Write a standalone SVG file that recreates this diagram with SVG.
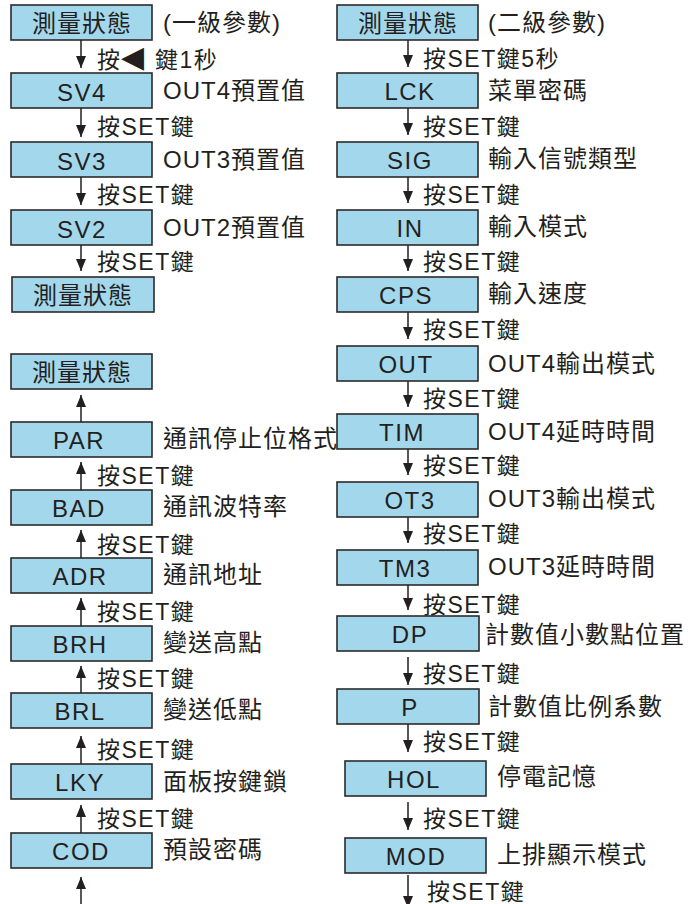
<svg xmlns="http://www.w3.org/2000/svg" width="697" height="904" viewBox="0 0 697 904">
<style>
.box rect{fill:#a3d8ec;stroke:#2b2b2b;stroke-width:1.6}
.box text{font-family:"Liberation Sans","Noto Sans CJK TC",sans-serif;font-size:24px;letter-spacing:1.5px;text-anchor:middle;fill:#231f20}
.box text.cj{letter-spacing:1px}
.lbl{font-family:"Liberation Sans","Noto Sans CJK TC",sans-serif;font-size:24px;letter-spacing:1px;fill:#231f20}
.key{font-family:"Liberation Sans","Noto Sans CJK TC",sans-serif;font-size:23px;letter-spacing:1.5px;fill:#231f20}
.conn line{stroke:#231f20;stroke-width:1.5;marker-end:url(#ah)}
</style>
<defs>
<marker id="ah" viewBox="0 0 12 10" refX="12" refY="5" markerWidth="12" markerHeight="10" orient="auto" markerUnits="userSpaceOnUse"><path d="M0,0 L12,5 L0,10 z" fill="#231f20"/></marker>
</defs>
<rect width="697" height="904" fill="#fff"/>

<!-- left column -->
<g id="L-meas1" class="box"><rect x="11" y="5" width="141" height="35"/><text class="cj" x="82" y="31.5">測量狀態</text></g>
<g id="L-sv4" class="box"><rect x="11" y="73" width="141" height="35"/><text x="82" y="101">SV4</text></g>
<g id="L-sv3" class="box"><rect x="11" y="142" width="141" height="35"/><text x="82" y="170">SV3</text></g>
<g id="L-sv2" class="box"><rect x="11" y="210" width="141" height="35"/><text x="82" y="238">SV2</text></g>
<g id="L-meas2" class="box"><rect x="12" y="277" width="142" height="35"/><text class="cj" x="83" y="303.5">測量狀態</text></g>
<g id="L-meas3" class="box"><rect x="11" y="354" width="141" height="35"/><text class="cj" x="82" y="380.5">測量狀態</text></g>
<g id="L-par" class="box"><rect x="11" y="422" width="141" height="35"/><text x="79" y="449">PAR</text></g>
<g id="L-bad" class="box"><rect x="11" y="490" width="141" height="35"/><text x="79" y="517">BAD</text></g>
<g id="L-adr" class="box"><rect x="11" y="558" width="141" height="35"/><text x="80" y="585">ADR</text></g>
<g id="L-brh" class="box"><rect x="11" y="626" width="141" height="35"/><text x="80" y="653">BRH</text></g>
<g id="L-brl" class="box"><rect x="11" y="693" width="141" height="35"/><text x="80" y="720">BRL</text></g>
<g id="L-lky" class="box"><rect x="11" y="764" width="141" height="35"/><text x="80" y="791">LKY</text></g>
<g id="L-cod" class="box"><rect x="11" y="833" width="141" height="35"/><text x="81" y="860">COD</text></g>

<!-- right column -->
<g id="R-meas" class="box"><rect x="337" y="5" width="141" height="35"/><text class="cj" x="408" y="31.5">測量狀態</text></g>
<g id="R-lck" class="box"><rect x="337" y="73" width="141" height="35"/><text x="410" y="100">LCK</text></g>
<g id="R-sig" class="box"><rect x="337" y="142" width="141" height="35"/><text x="410" y="169">SIG</text></g>
<g id="R-in" class="box"><rect x="337" y="210" width="141" height="35"/><text x="410" y="237">IN</text></g>
<g id="R-cps" class="box"><rect x="337" y="277" width="141" height="35"/><text x="406" y="304">CPS</text></g>
<g id="R-out" class="box"><rect x="337" y="346" width="141" height="35"/><text x="406" y="373">OUT</text></g>
<g id="R-tim" class="box"><rect x="337" y="414" width="141" height="35"/><text x="402" y="441">TIM</text></g>
<g id="R-ot3" class="box"><rect x="337" y="482" width="141" height="35"/><text x="410" y="509">OT3</text></g>
<g id="R-tm3" class="box"><rect x="337" y="550" width="141" height="35"/><text x="405" y="577">TM3</text></g>
<g id="R-dp" class="box"><rect x="337" y="616" width="142" height="35"/><text x="410" y="643">DP</text></g>
<g id="R-p" class="box"><rect x="337" y="689" width="142" height="35"/><text x="410" y="716">P</text></g>
<g id="R-hol" class="box"><rect x="345" y="761" width="141" height="35"/><text x="414" y="788">HOL</text></g>
<g id="R-mod" class="box"><rect x="345" y="838" width="141" height="35"/><text x="416" y="865">MOD</text></g>

<!-- side labels -->
<g id="side-labels">
<text class="lbl" x="163" y="31">(一級參數)</text>
<text class="lbl" x="163" y="99">OUT4預置值</text>
<text class="lbl" x="163" y="168">OUT3預置值</text>
<text class="lbl" x="163" y="236">OUT2預置值</text>
<text class="lbl" x="163" y="447">通訊停止位格式</text>
<text class="lbl" x="163" y="515">通訊波特率</text>
<text class="lbl" x="163" y="583">通訊地址</text>
<text class="lbl" x="163" y="651">變送高點</text>
<text class="lbl" x="163" y="718">變送低點</text>
<text class="lbl" x="163" y="790">面板按鍵鎖</text>
<text class="lbl" x="163" y="858">預設密碼</text>
<text class="lbl" x="488" y="31">(二級參數)</text>
<text class="lbl" x="488" y="99">菜單密碼</text>
<text class="lbl" x="488" y="167">輸入信號類型</text>
<text class="lbl" x="488" y="235">輸入模式</text>
<text class="lbl" x="488" y="302">輸入速度</text>
<text class="lbl" x="488" y="372">OUT4輸出模式</text>
<text class="lbl" x="488" y="440">OUT4延時時間</text>
<text class="lbl" x="488" y="507">OUT3輸出模式</text>
<text class="lbl" x="488" y="575">OUT3延時時間</text>
<text class="lbl" x="485" y="643">計數值小數點位置</text>
<text class="lbl" x="488" y="715">計數值比例系數</text>
<text class="lbl" x="497" y="785">停電記憶</text>
<text class="lbl" x="497" y="863">上排顯示模式</text>
</g>

<!-- connectors -->
<g id="connectors" class="conn">
<line x1="81" y1="40" x2="81" y2="68"/>
<line x1="81" y1="108" x2="81" y2="137"/>
<line x1="81" y1="177" x2="81" y2="205"/>
<line x1="81" y1="245" x2="81" y2="271"/>
<line x1="81" y1="422" x2="81" y2="395"/>
<line x1="81" y1="490" x2="81" y2="462"/>
<line x1="81" y1="558" x2="81" y2="530"/>
<line x1="81" y1="626" x2="81" y2="598"/>
<line x1="81" y1="693" x2="81" y2="666"/>
<line x1="81" y1="764" x2="81" y2="736"/>
<line x1="81" y1="833" x2="81" y2="805"/>
<line x1="81" y1="904" x2="81" y2="877"/>
<line x1="408" y1="40" x2="408" y2="67"/>
<line x1="408" y1="108" x2="408" y2="135"/>
<line x1="408" y1="177" x2="408" y2="203"/>
<line x1="408" y1="245" x2="408" y2="271"/>
<line x1="408" y1="312" x2="408" y2="339"/>
<line x1="408" y1="381" x2="408" y2="407"/>
<line x1="408" y1="449" x2="408" y2="475"/>
<line x1="408" y1="517" x2="408" y2="543"/>
<line x1="408" y1="585" x2="408" y2="610"/>
<line x1="408" y1="657" x2="408" y2="685"/>
<line x1="408" y1="724" x2="408" y2="752"/>
<line x1="408" y1="802" x2="408" y2="830"/>
<line x1="408" y1="875" x2="408" y2="908"/>
</g>

<!-- connector labels -->
<g id="connector-labels">
<text class="key" x="97" y="68">按<tspan x="121" y="67" font-family="DejaVu Sans" font-size="30" letter-spacing="0">◀</tspan><tspan x="155" y="68">鍵1秒</tspan></text>
<text class="key" x="97" y="135">按SET鍵</text>
<text class="key" x="97" y="203">按SET鍵</text>
<text class="key" x="97" y="270">按SET鍵</text>
<text class="key" x="97" y="484">按SET鍵</text>
<text class="key" x="97" y="553">按SET鍵</text>
<text class="key" x="97" y="620">按SET鍵</text>
<text class="key" x="97" y="687">按SET鍵</text>
<text class="key" x="97" y="758">按SET鍵</text>
<text class="key" x="97" y="827">按SET鍵</text>
<text class="key" x="423" y="67">按SET鍵5秒</text>
<text class="key" x="423" y="135">按SET鍵</text>
<text class="key" x="423" y="203">按SET鍵</text>
<text class="key" x="423" y="270">按SET鍵</text>
<text class="key" x="423" y="338">按SET鍵</text>
<text class="key" x="423" y="407">按SET鍵</text>
<text class="key" x="423" y="474">按SET鍵</text>
<text class="key" x="423" y="542">按SET鍵</text>
<text class="key" x="423" y="613">按SET鍵</text>
<text class="key" x="423" y="682">按SET鍵</text>
<text class="key" x="423" y="750">按SET鍵</text>
<text class="key" x="423" y="827">按SET鍵</text>
<text class="key" x="427" y="900">按SET鍵</text>
</g>
</svg>
